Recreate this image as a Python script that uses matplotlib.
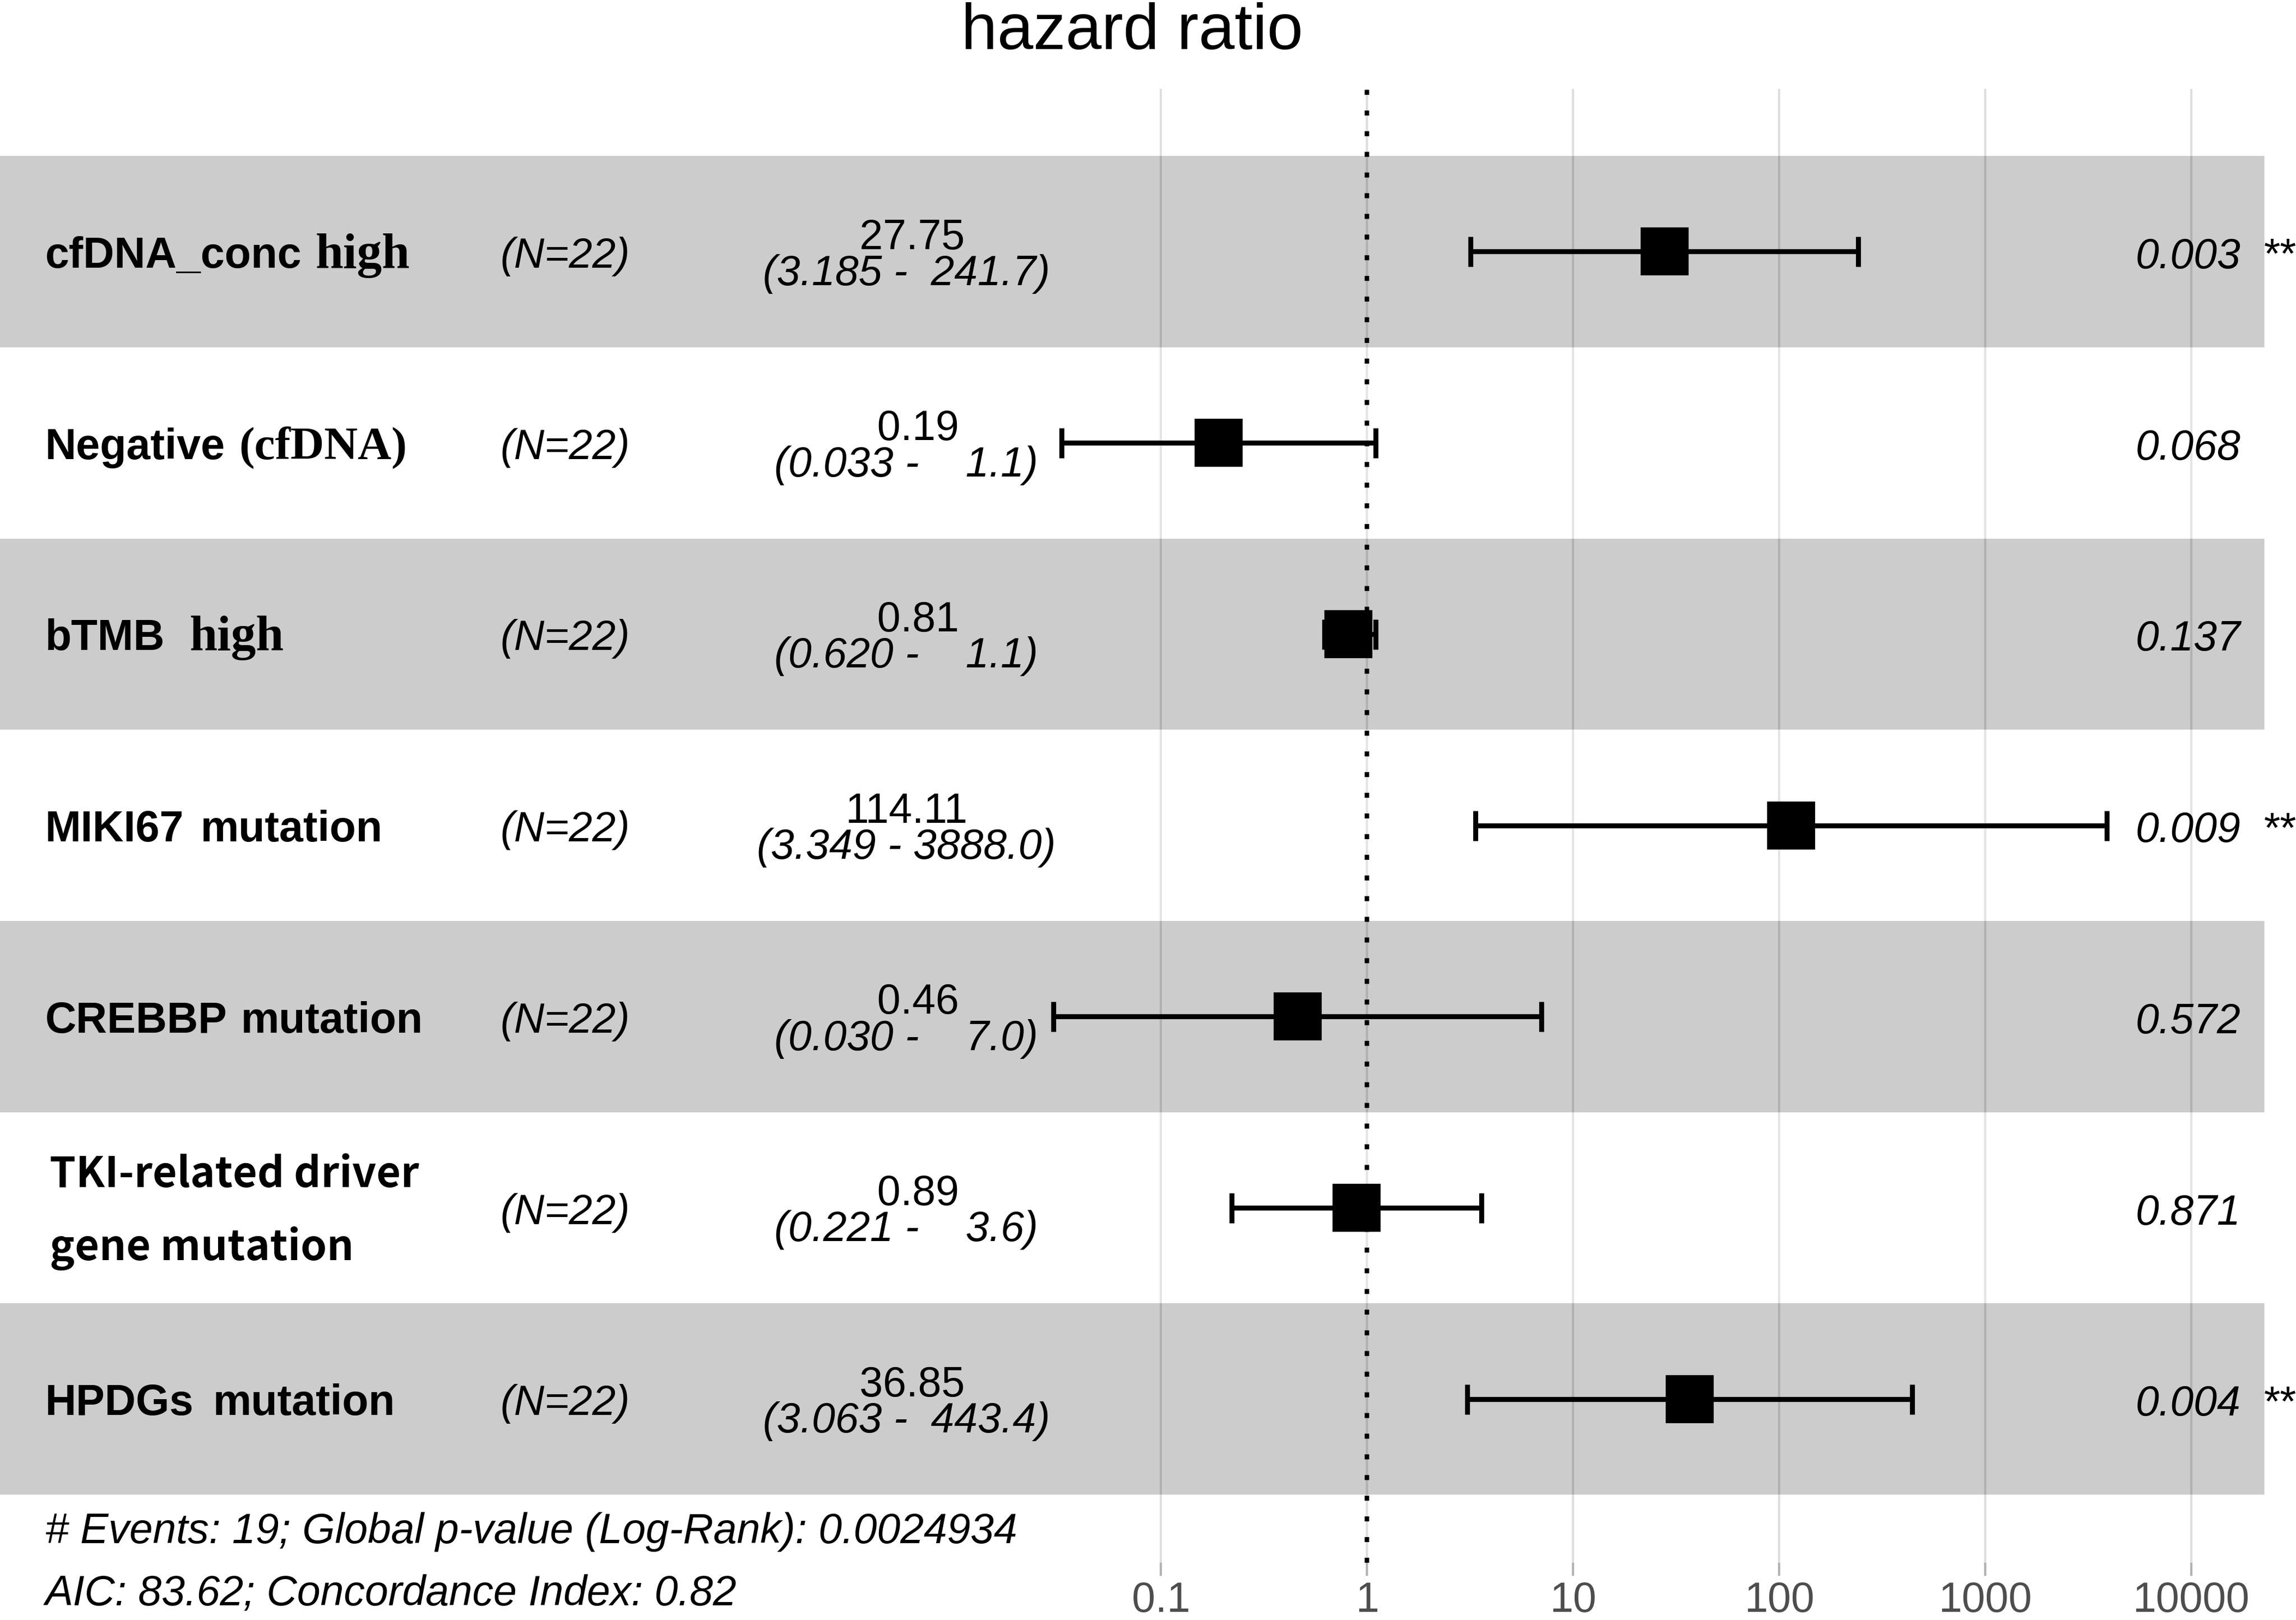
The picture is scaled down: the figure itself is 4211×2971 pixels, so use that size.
import matplotlib
matplotlib.use("Agg")
import matplotlib.pyplot as plt
import matplotlib.transforms as mtransforms
from matplotlib.ticker import NullLocator
import numpy as np

plt.rcParams['font.family'] = ['Liberation Sans', 'DejaVu Sans']
plt.rcParams['lines.scale_dashes'] = False

# ---------------- data ----------------
variables = ["cfDNA_conc high", "Negative (cfDNA)", "bTMB high", "MIKI67 mutation",
             "CREBBP mutation", "TKI-related driver gene mutation", "HPDGs mutation"]
# label pieces: (text, font key)
label_parts = [
    [("cfDNA_conc", "sans"), ("high", "serif")],
    [("Negative", "sans"), ("(cfDNA)", "serif2")],
    [("bTMB", "sans"), ("high", "serif")],
    [("MIKI67", "sans"), ("mutation", "sans")],
    [("CREBBP", "sans"), ("mutation", "sans")],
    [("TKI-related driver", "cjk"), ("gene mutation", "cjk")],
    [("HPDGs", "sans"), ("mutation", "sans")],
]
n_obs = [22, 22, 22, 22, 22, 22, 22]
hr = [27.75, 0.19, 0.81, 114.11, 0.46, 0.89, 36.85]
ci_lo = [3.185, 0.033, 0.620, 3.349, 0.030, 0.221, 3.063]
ci_hi = [241.7, 1.1, 1.1, 3888.0, 7.0, 3.6, 443.4]
p_values = ["0.003", "0.068", "0.137", "0.009", "0.572", "0.871", "0.004"]
stars = ["**", "", "", "**", "", "", "**"]
tick_vals = [0.1, 1, 10, 100, 1000, 10000]
tick_labels = ["0.1", "1", "10", "100", "1000", "10000"]
n_events = 19
global_p = "0.0024934"
aic = "83.62"
concordance = "0.82"

# ---------------- figure ----------------
W, H = 4211, 2971
DPI = 300
fig = plt.figure(figsize=(W / DPI, H / DPI), dpi=DPI)
ax = fig.add_axes([0.0, 1 - 2866 / H, 4153 / W, (2866 - 163) / H])

rows = np.arange(1, len(hr) + 1)
ax.set_xscale('log')
ax.set_xlim(10 ** -6.6346, 10 ** 4.3552)
ax.set_ylim(7.856, 0.149)

for s in ax.spines.values():
    s.set_visible(False)

ax.set_axisbelow(True)
ax.xaxis.grid(True, color='#dedede', lw=1.0, zorder=0.5)
ax.yaxis.grid(False)
ax.xaxis.set_minor_locator(NullLocator())
ax.set_xticks(tick_vals, tick_labels)
ax.set_yticks([])
ax.tick_params(axis='x', length=5.8, width=1.0, color='#b3b3b3', labelsize=18.5,
               labelcolor='#4d4d4d', pad=2)

# alternating bands
for r in rows:
    if r % 2 == 1:
        ax.axhspan(r - 0.5, r + 0.5, color='black', alpha=0.2, lw=0, zorder=1)
    else:
        ax.axhspan(r - 0.5, r + 0.5, color='white', alpha=0.2, lw=0, zorder=1)

# reference line
ax.axvline(1, color='black', lw=2.0, dashes=(2.2, 6.9), dash_capstyle='butt', zorder=2)

hr_a = np.array(hr)
lo_a = np.array(ci_lo)
hi_a = np.array(ci_hi)
ax.errorbar(hr_a, rows, xerr=[hr_a - lo_a, hi_a - hr_a], fmt='none', ecolor='black',
            elinewidth=2.2, capsize=6.6, capthick=2.2, zorder=3)
ax.plot(hr_a, rows, linestyle='none', marker='s', markersize=20, color='black', zorder=4)

# ---------------- texts ----------------
trans = mtransforms.blended_transform_factory(ax.transAxes, ax.transData)
fonts = {
    "sans": dict(family=['Liberation Sans', 'DejaVu Sans'], fontweight='bold', fontsize=19),
    "serif": dict(family=['Liberation Serif', 'DejaVu Serif'], fontweight='bold', fontsize=22),
    "serif2": dict(family=['Liberation Serif', 'DejaVu Serif'], fontweight='bold', fontsize=20.5),
    "cjk": dict(family=['Noto Sans CJK SC', 'DejaVu Sans'], fontweight='bold', fontsize=18.5),
}
gaps_px = [25, 25, 45, 30, 25, 0, 35]

fig.canvas.draw()
renderer = fig.canvas.get_renderer()
ax_w = ax.get_window_extent(renderer).width

lab_x = 0.0200
for i, r in enumerate(rows):
    parts = label_parts[i]
    if parts[0][1] == "cjk":
        ax.text(lab_x + 8 / ax_w, r - 0.108, parts[0][0], transform=trans, ha='left',
                va='baseline', **fonts["cjk"])
        ax.text(lab_x + 8 / ax_w, r + 0.274, parts[1][0], transform=trans, ha='left',
                va='baseline', **fonts["cjk"])
        continue
    x = lab_x
    for k, (txt, fk) in enumerate(parts):
        t = ax.text(x, r + 0.084, txt, transform=trans, ha='left', va='baseline', **fonts[fk])
        bb = t.get_window_extent(renderer)
        x = ax.transAxes.inverted().transform((bb.x1 + gaps_px[i], 0))[0]

for i, r in enumerate(rows):
    ax.text(0.2210, r + 0.084, f"(N={n_obs[i]})", transform=trans, ha='left',
            va='baseline', fontsize=18.5, fontstyle='italic')
    ax.text(0.4002, r - 0.014, f"{hr[i]:6.2f}", transform=trans, ha='center',
            va='baseline', fontsize=18.5)
    ax.text(0.4002, r + 0.175, f"({ci_lo[i]:.3f} - {ci_hi[i]:6.1f})", transform=trans,
            ha='center', va='baseline', fontsize=18.5, fontstyle='italic')
    ax.text(0.9896, r + 0.087, p_values[i], transform=trans, ha='right', va='baseline',
            fontsize=18.5, fontstyle='italic')
    if stars[i]:
        ax.text(0.9990, r + 0.087, stars[i], transform=trans, ha='left', va='baseline',
                fontsize=18.5, fontstyle='italic', clip_on=False)

fig.text(2076 / W, 1 - 90 / H, "hazard ratio", ha='center', va='baseline', fontsize=28.5)
fig.text(83 / W, 1 - 2830 / H,
         f"# Events: {n_events}; Global p-value (Log-Rank): {global_p}",
         ha='left', va='baseline', fontsize=18.5, fontstyle='italic')
fig.text(83 / W, 1 - 2944 / H,
         f"AIC: {aic}; Concordance Index: {concordance}",
         ha='left', va='baseline', fontsize=18.5, fontstyle='italic')

fig.savefig("out.png", dpi=DPI)
